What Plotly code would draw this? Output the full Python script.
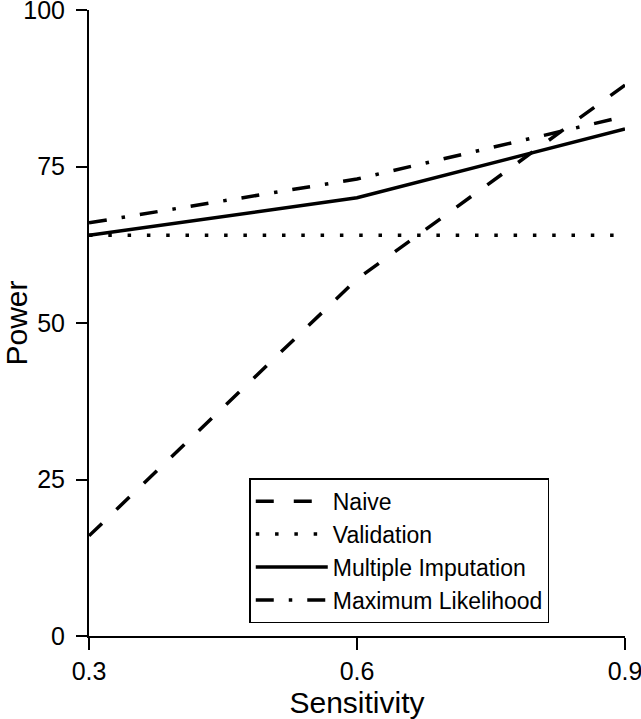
import plotly.graph_objects as go

sensitivity = [0.3, 0.6, 0.9]
naive = [16, 57, 88]
validation = [64, 64, 64]
multiple_imputation = [64, 70, 81]
maximum_likelihood = [66, 73, 83]

x_ticks = [0.3, 0.6, 0.9]
x_tick_labels = ["0.3", "0.6", "0.9"]
y_ticks = [0, 25, 50, 75, 100]
y_tick_labels = ["0", "25", "50", "75", "100"]

FONT = "Liberation Sans, Arial, sans-serif"

fig = go.Figure()
fig.add_trace(go.Scatter(x=sensitivity, y=naive, mode="lines", name="Naive",
                         line=dict(color="black", width=3.5, dash="18px,20px")))
fig.add_trace(go.Scatter(x=sensitivity, y=validation, mode="lines", name="Validation",
                         line=dict(color="black", width=3.5, dash="3.5px,15.8px")))
fig.add_trace(go.Scatter(x=sensitivity, y=multiple_imputation, mode="lines", name="Multiple Imputation",
                         line=dict(color="black", width=3.5)))
fig.add_trace(go.Scatter(x=sensitivity, y=maximum_likelihood, mode="lines", name="Maximum Likelihood",
                         line=dict(color="black", width=3.5, dash="18px,15px,3.5px,15px")))

fig.update_layout(
    width=641, height=719,
    margin=dict(l=89, r=16, t=10, b=83),
    plot_bgcolor="white", paper_bgcolor="white",
    font=dict(family=FONT, size=25, color="black"),
    showlegend=True,
    legend=dict(
        x=0.299, y=0.252, xanchor="left", yanchor="top",
        bgcolor="white", bordercolor="black", borderwidth=1.5,
        font=dict(family=FONT, size=23, color="black"),
        itemwidth=72,
        tracegroupgap=0,
    ),
    xaxis=dict(
        range=[0.3, 0.9], tickmode="array", tickvals=x_ticks, ticktext=x_tick_labels,
        showgrid=False, zeroline=False, showline=True, linecolor="black", linewidth=2,
        ticks="outside", ticklen=12, tickwidth=2, tickcolor="black",
        ticklabeloverflow="allow", automargin=False,
        title=dict(text="Sensitivity", standoff=8),
        fixedrange=True,
    ),
    yaxis=dict(
        range=[0, 100], tickmode="array", tickvals=y_ticks, ticktext=y_tick_labels,
        showgrid=False, zeroline=False, showline=True, linecolor="black", linewidth=2,
        ticks="outside", ticklen=11, tickwidth=2, tickcolor="black",
        ticklabelstandoff=6, ticklabeloverflow="allow", automargin=False,
        title=dict(text="Power", standoff=18),
        fixedrange=True,
    ),
)

fig.write_html(
    "out.html",
    config={"displayModeBar": False},
    post_script="document.body.style.margin='0';document.body.style.overflow='hidden';",
)
